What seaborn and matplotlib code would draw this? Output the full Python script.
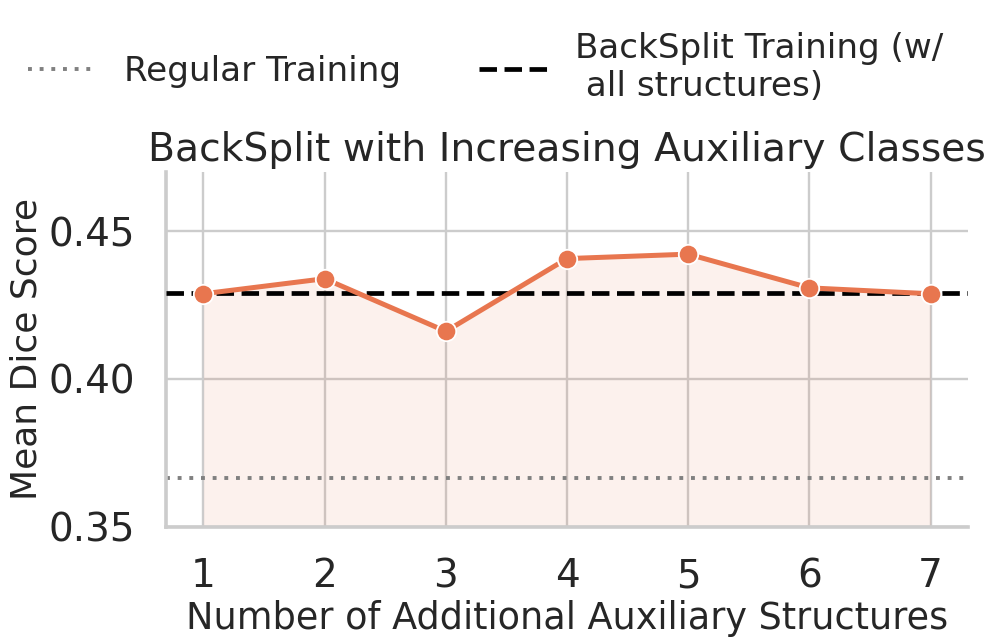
import pandas as pd
import matplotlib
matplotlib.use("Agg")
import matplotlib.pyplot as plt
import seaborn as sns

# values
n_aux = [1, 2, 3, 4, 5, 6, 7]
mean_dice = [0.4288, 0.4339, 0.4161, 0.4407, 0.4422, 0.4308, 0.4288]
regular_training = 0.3665
backsplit_all = 0.4291

line_color = "#e8764f"

sns.set_theme(style="whitegrid")
plt.rcParams["font.family"] = ["DejaVu Sans"]
plt.rcParams["grid.color"] = "#cccccc"
plt.rcParams["grid.linewidth"] = 1.7
plt.rcParams["axes.edgecolor"] = "#cccccc"
plt.rcParams["axes.linewidth"] = 2.6

df = pd.DataFrame({"n_aux": n_aux, "mean_dice": mean_dice})

fig, ax = plt.subplots(figsize=(9.87, 6.44), dpi=100)
fig.subplots_adjust(left=0.168, right=0.981, top=0.733, bottom=0.182)

# reference lines
ax.axhline(regular_training, color="#808080", lw=2.8, dashes=(1, 2),
           label="Regular Training", zorder=2)
ax.axhline(backsplit_all, color="black", lw=3.4, ls="--",
           label="BackSplit Training (w/\n all structures)", zorder=3)

# shaded area under the curve
ax.fill_between(df["n_aux"], df["mean_dice"], 0.35, color=line_color, alpha=0.1, lw=0, zorder=1)

sns.lineplot(data=df, x="n_aux", y="mean_dice", ax=ax, color=line_color,
             lw=3.6, marker="o", markersize=14, markeredgecolor="white",
             markeredgewidth=1.3, zorder=4, legend=False)
if ax.get_legend() is not None:
    ax.get_legend().remove()

ax.set_xlim(0.69, 7.31)
ax.set_ylim(0.35, 0.47)
ax.set_xticks(n_aux)
ax.set_yticks([0.35, 0.40, 0.45])
ax.set_yticklabels(["0.35", "0.40", "0.45"])
ax.tick_params(axis="both", labelsize=28, pad=22, length=0)

ax.set_xlabel("Number of Additional Auxiliary Structures", fontsize=26.4, labelpad=3)
ax.set_ylabel("Mean Dice Score", fontsize=26, labelpad=4)
ax.set_title("BackSplit with Increasing Auxiliary Classes", fontsize=28.3, pad=8)

sns.despine(ax=ax)

handles, labels = ax.get_legend_handles_labels()
fig.legend(handles, labels, loc="center", bbox_to_anchor=(0.492, 0.895), ncol=2,
           frameon=False, fontsize=24.6, handlelength=2.0, columnspacing=2.3)

fig.savefig("out.png", dpi=100)
